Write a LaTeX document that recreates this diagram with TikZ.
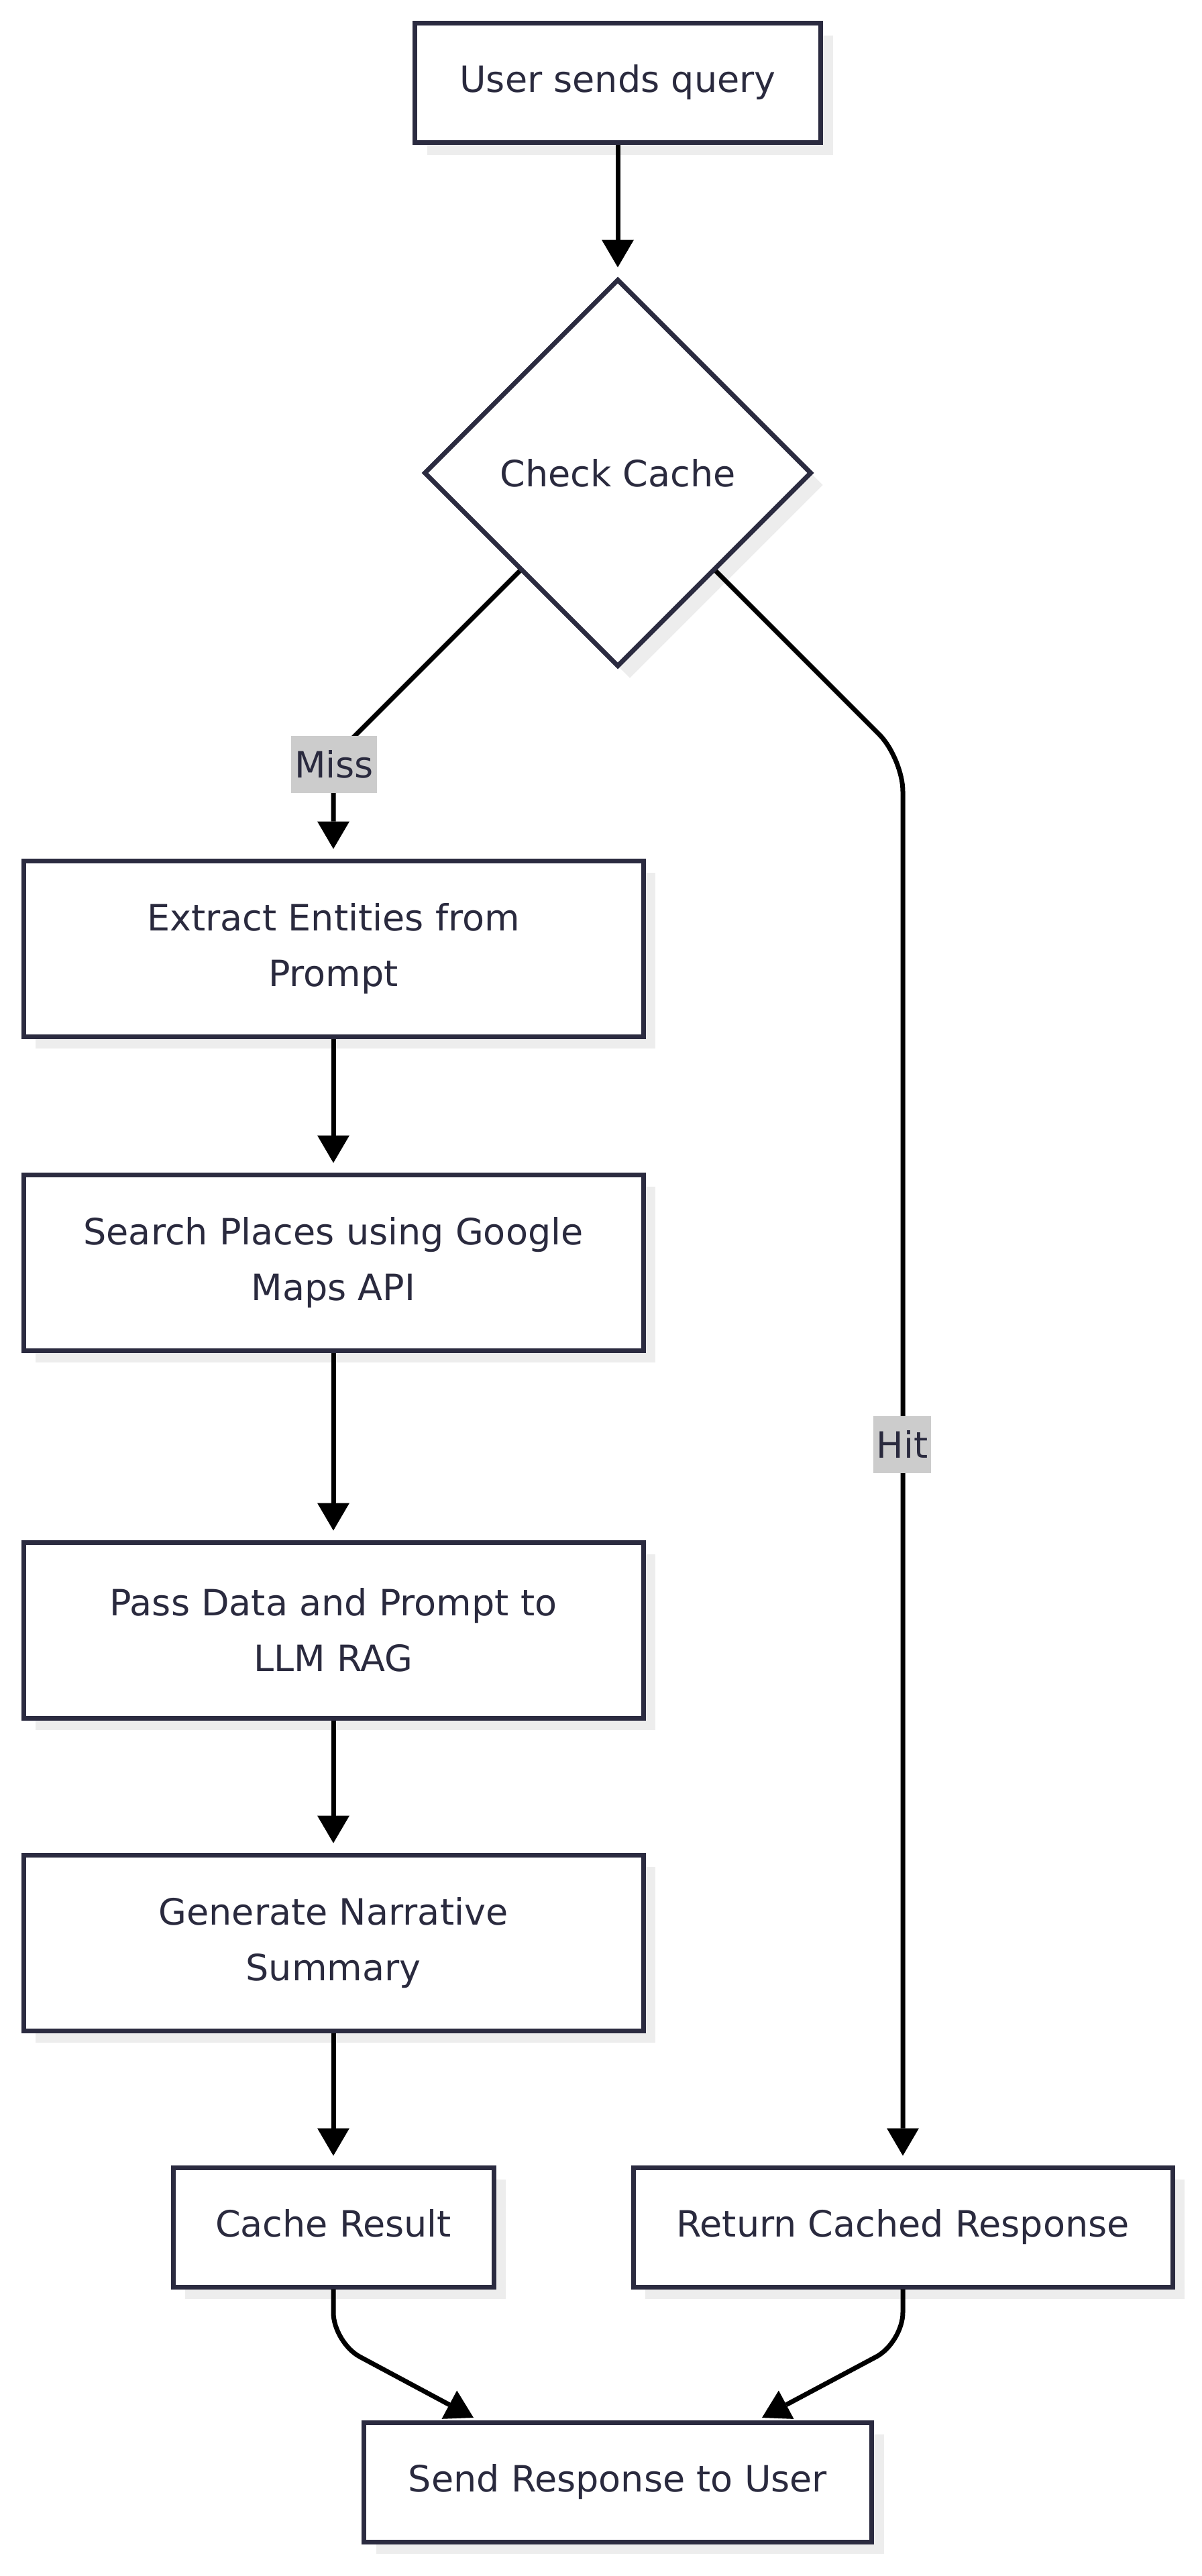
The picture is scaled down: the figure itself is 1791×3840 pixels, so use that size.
\documentclass[tikz,border=0pt]{standalone}
\usepackage{fontspec}
\setmainfont{DejaVu Sans}
\usetikzlibrary{arrows.meta,shapes.geometric,shadows}
\definecolor{nodeborder}{HTML}{2B2B40}
\definecolor{nodetext}{HTML}{2A2A3E}
\definecolor{shadowc}{HTML}{EDEDED}
\definecolor{labelbg}{HTML}{CCCCCC}
\tikzset{
  box/.style={draw=nodeborder, line width=7pt, fill=white, text=nodetext,
    align=center, inner sep=0pt, font=\fontsize{54}{83}\selectfont,
    drop shadow={shadow xshift=18pt, shadow yshift=-18pt, fill=shadowc, draw=none, opacity=1}},
  onebox/.style={box, text height=40pt, text depth=12pt},
  decbox/.style={box, diamond, aspect=1},
  conn/.style={draw=black, line width=7pt, -{Triangle[length=41pt,width=48pt,line width=0pt]}},
  edgelabel/.style={fill=labelbg, text=nodetext, font=\fontsize{54}{83}\selectfont,
    inner xsep=5pt, inner ysep=0pt, minimum height=85pt}
}
\begin{document}
\begin{tikzpicture}[x=1pt,y=-1pt]
\fill[white] (0,0) rectangle (1791,3840);
\useasboundingbox (0,0) rectangle (1791,3840);

\node[onebox, minimum width=605pt, minimum height=178pt] (start) at (921,124) {User sends query};
\node[decbox, minimum width=578pt, minimum height=578pt] (cc) at (921,705) {Check Cache};
\node[box, minimum width=924pt, minimum height=262pt] (ex) at (497,1414) {Extract Entities from\\Prompt};
\node[box, minimum width=924pt, minimum height=262pt] (sp) at (497,1882) {Search Places using Google\\Maps API};
\node[box, minimum width=924pt, minimum height=262pt] (pd) at (497,2430) {Pass Data and Prompt to\\LLM RAG};
\node[box, minimum width=924pt, minimum height=262pt] (gn) at (497,2896) {Generate Narrative\\Summary};
\node[onebox, minimum width=478pt, minimum height=178pt] (cr) at (497,3320) {Cache Result};
\node[onebox, minimum width=804pt, minimum height=178pt] (rc) at (1346,3320) {Return Cached Response};
\node[onebox, minimum width=757pt, minimum height=178pt] (send) at (921,3700) {Send Response to User};

\coordinate (missbend) at (497,1129);
\coordinate (hitbend) at (1346,1130);
\coordinate (crbend) at (497,3492);
\coordinate (rcbend) at (1346,3492);
\coordinate (sendL) at (706,3604);
\coordinate (sendR) at (1136,3604);

\draw[conn, shorten >=14pt] (start) -- (cc);
\draw[conn, shorten >=14pt] (cc) -- (missbend) -- (ex);
\draw[conn, rounded corners=50pt, shorten >=14pt] (cc) -- (hitbend) -- (rc);
\draw[conn, shorten >=14pt] (ex) -- (sp);
\draw[conn, shorten >=14pt] (sp) -- (pd);
\draw[conn, shorten >=14pt] (pd) -- (gn);
\draw[conn, shorten >=14pt] (gn) -- (cr);
\draw[conn, rounded corners=45pt] (cr) -- (crbend) -- (sendL);
\draw[conn, rounded corners=45pt] (rc) -- (rcbend) -- (sendR);

\node[edgelabel] (miss) at (498,1139) {Miss};
\node[edgelabel] (hit) at (1345,2153) {Hit};
\end{tikzpicture}
\end{document}
